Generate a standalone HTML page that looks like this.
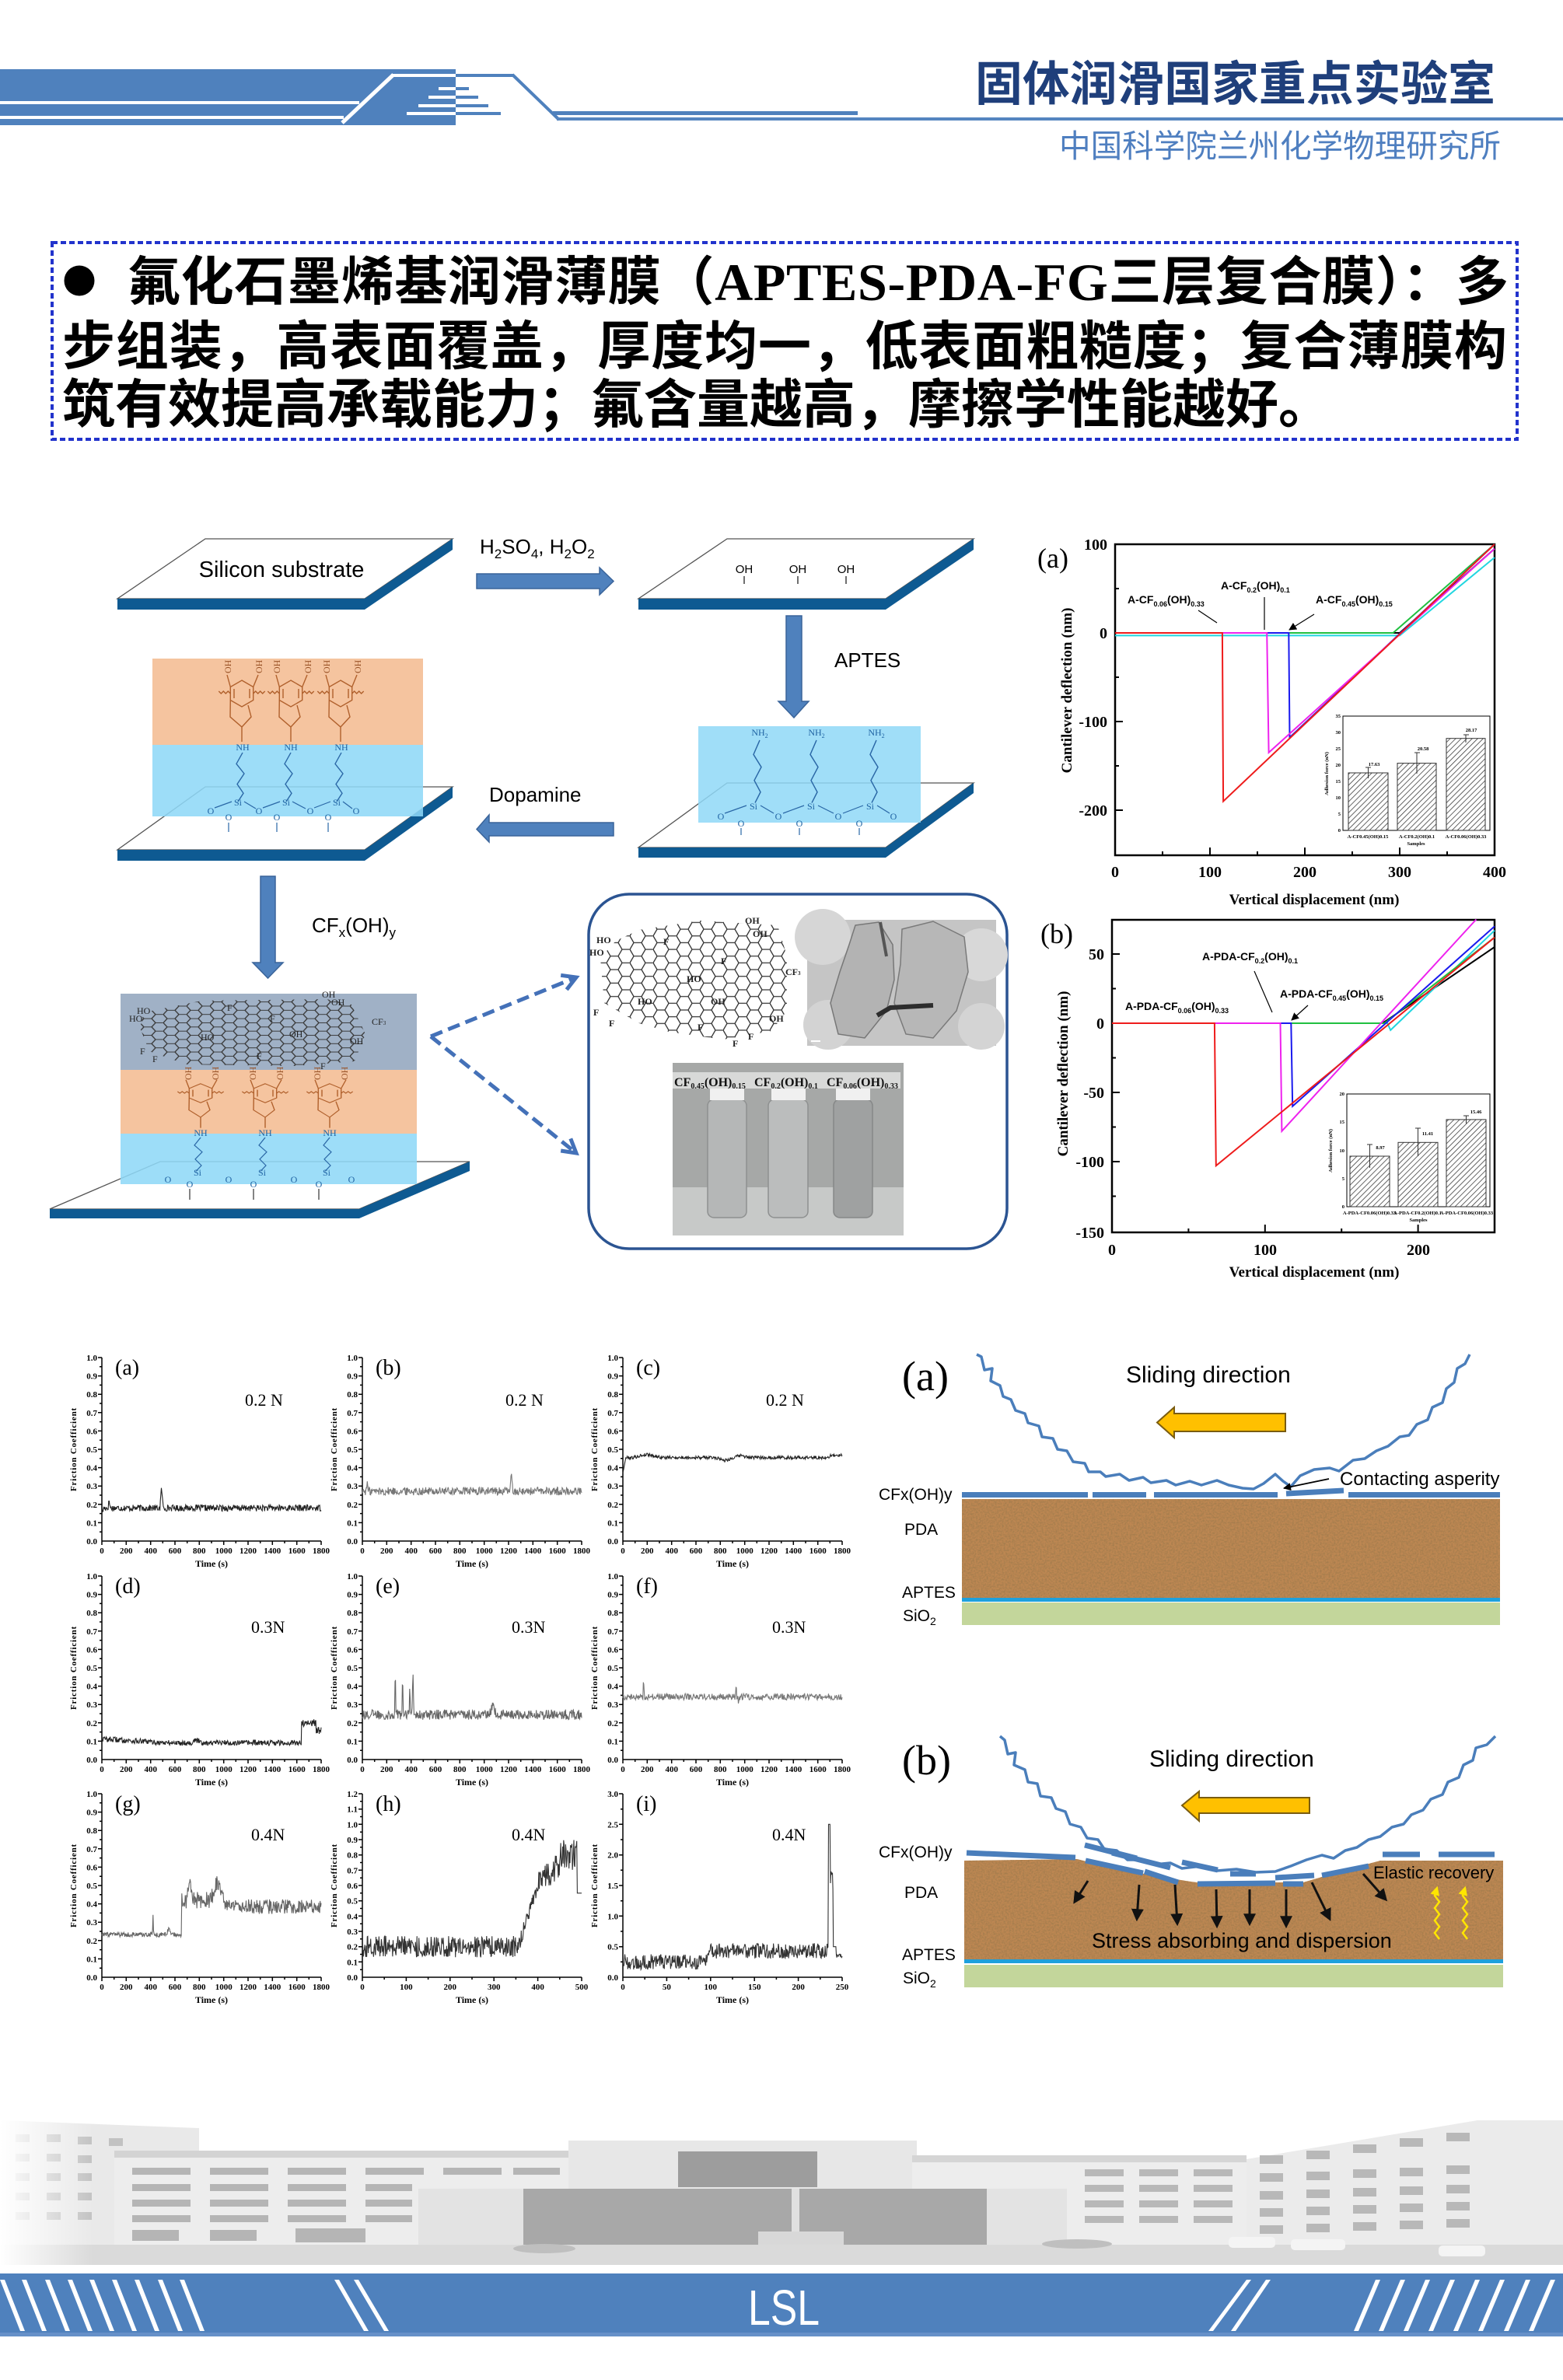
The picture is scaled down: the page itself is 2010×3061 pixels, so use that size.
<!DOCTYPE html>
<html><head><meta charset="utf-8">
<style>
html,body{margin:0;padding:0;background:#fff;}
body{width:2010px;height:3061px;overflow:hidden;position:relative;}
svg{position:absolute;left:0;top:0;}
.s{font-family:"Liberation Sans",sans-serif;}
.r{font-family:"Liberation Serif",serif;}
.c{font-family:"Liberation Sans","Noto Sans CJK SC",sans-serif;}
.tk{font-family:"Liberation Serif",serif;font-weight:bold;font-size:11px;}
.tt{font-family:"Liberation Serif",serif;font-weight:bold;font-size:12px;}
.pl{font-family:"Liberation Serif",serif;font-size:28px;}
.ld{font-family:"Liberation Serif",serif;font-size:22px;}
.af{font-family:"Liberation Serif",serif;font-weight:bold;font-size:20px;}
.at{font-family:"Liberation Serif",serif;font-weight:bold;font-size:19px;}
.cl{font-family:"Liberation Sans",sans-serif;font-weight:bold;font-size:14px;}
.in{font-family:"Liberation Serif",serif;font-weight:bold;font-size:6.5px;}
.mo{font-family:"Liberation Serif",serif;font-size:12px;}
</style></head><body>
<svg width="2010" height="3061" viewBox="0 0 2010 3061" xmlns="http://www.w3.org/2000/svg">
<defs>
 <pattern id="hatch" width="5" height="5" patternUnits="userSpaceOnUse" patternTransform="rotate(45)"><rect width="5" height="5" fill="#fff"/><line x1="0" y1="0" x2="0" y2="5" stroke="#333" stroke-width="1.5"/></pattern>
 <pattern id="hc" width="30" height="17.32" patternUnits="userSpaceOnUse"><path d="M0,8.66 L5,0 L15,0 L20,8.66 L15,17.32 L5,17.32 Z M20,8.66 L30,8.66" fill="none" stroke="#333" stroke-width="1.3"/></pattern>
 <pattern id="hg" width="30" height="17.32" patternUnits="userSpaceOnUse" patternTransform="scale(1,0.62)"><path d="M0,8.66 L5,0 L15,0 L20,8.66 L15,17.32 L5,17.32 Z M20,8.66 L30,8.66" fill="none" stroke="#3a3a3a" stroke-width="1.6"/></pattern>
 <filter id="grain" x="0" y="0" width="100%" height="100%"><feTurbulence type="fractalNoise" baseFrequency="0.45" numOctaves="2" seed="5"/><feColorMatrix values="0 0 0 0 0.33  0 0 0 0 0.19  0 0 0 0 0.07  1.6 0 0 0 -0.55"/><feComposite in2="SourceAlpha" operator="in"/></filter>
 <marker id="ah" viewBox="0 0 10 10" refX="9" refY="5" markerUnits="userSpaceOnUse" markerWidth="10" markerHeight="10" orient="auto"><path d="M0,0 L10,5 L0,10 z" fill="#000"/></marker>
 <marker id="ahb" viewBox="0 0 10 10" refX="8" refY="5" markerUnits="userSpaceOnUse" markerWidth="16" markerHeight="16" orient="auto"><path d="M0,0 L10,5 L0,10 z" fill="#111"/></marker>
 <marker id="ahy" viewBox="0 0 10 10" refX="8" refY="5" markerUnits="userSpaceOnUse" markerWidth="12" markerHeight="12" orient="auto"><path d="M0,0 L10,5 L0,10 z" fill="#ffe600"/></marker>
 <g id="pda" fill="none" stroke="#b0602c" stroke-width="1.4">
  <polygon points="0,-17 14.7,-8.5 14.7,8.5 0,17 -14.7,8.5 -14.7,-8.5"/>
  <path d="M-10,-6 L-10,6 M10,-6 L10,6 M-14.7,-8.5 L-19,-24 M14.7,-8.5 L21,-24 M-14.7,0 l-3,-3 l-3,3 l-3,-3 l-3,3 l-3,-3 M14.7,0 l3,-3 l3,3 l3,-3 l3,3 l3,-3 M-14.7,8.5 L-15,30 L0,43 L12,30 L8,15 M0,43 L0,62"/>
 </g>
 <g id="ch" fill="none" stroke="#2a67a6" stroke-width="1.4"><path d="M0,0 L-8,16 L2,30 L-7,45 L1,58 L-6,70"/></g>
</defs>

<!-- ===== HEADER ===== -->
<rect x="0" y="89" width="586" height="72" fill="#4f81bd"/>
<rect x="0" y="130" width="462" height="4" fill="#fff"/>
<rect x="0" y="149" width="442" height="4" fill="#fff"/>
<line x1="506" y1="96" x2="440" y2="158" stroke="#fff" stroke-width="5"/>
<rect x="505" y="95" width="81" height="4" fill="#fff"/>
<rect x="586" y="95" width="74" height="4" fill="#4f81bd"/>
<line x1="659" y1="96" x2="719" y2="154" stroke="#4f81bd" stroke-width="4"/>
<rect x="564" y="112" width="22" height="4" fill="#fff"/><rect x="586" y="112" width="17" height="4" fill="#4f81bd"/>
<rect x="551" y="123" width="35" height="4" fill="#fff"/><rect x="586" y="123" width="29" height="4" fill="#4f81bd"/>
<rect x="538" y="134" width="48" height="4" fill="#fff"/><rect x="586" y="134" width="42" height="4" fill="#4f81bd"/>
<rect x="523" y="144" width="63" height="4" fill="#fff"/><rect x="586" y="144" width="58" height="4" fill="#4f81bd"/>
<rect x="711" y="143" width="392" height="5" fill="#4f81bd"/>
<rect x="716" y="151" width="1294" height="4" fill="#5585c0"/>
<text x="1254" y="129" font-size="61" font-weight="bold" fill="#1f3f7b" class="c" textLength="669" lengthAdjust="spacingAndGlyphs">固体润滑国家重点实验室</text>
<text x="1362" y="202" font-size="41" fill="#4f7fc0" class="c" textLength="568" lengthAdjust="spacingAndGlyphs">中国科学院兰州化学物理研究所</text>

<!-- ===== TITLE BOX ===== -->
<rect x="67" y="312" width="1884" height="253" fill="none" stroke="#2233cc" stroke-width="4" stroke-dasharray="7 4"/>
<circle cx="102" cy="361" r="19.5" fill="#000"/>
<text x="164" y="386" font-size="68" font-weight="bold" class="c" textLength="1776" lengthAdjust="spacing">氟化石墨烯基润滑薄膜（<tspan class="r">APTES-PDA-FG</tspan>三层复合膜）：多</text>
<text x="80" y="469" font-size="68" font-weight="bold" class="c" textLength="1858" lengthAdjust="spacing">步组装，高表面覆盖，厚度均一，低表面粗糙度；复合薄膜构</text>
<text x="80" y="544" font-size="68" font-weight="bold" class="c">筑有效提高承载能力；氟含量越高，摩擦学性能越好。</text>

<!-- ===== SCHEMATIC ===== -->
<!-- plate 1 -->
<polygon points="264,693 582,693 469,770 151,770" fill="#fff" stroke="#555" stroke-width="1.3"/>
<polygon points="151,770 469,770 469,784 151,784" fill="#0e5a92"/>
<polygon points="469,770 582,693 582,707 469,784" fill="#0e5a92"/>
<text x="362" y="742" font-size="29" text-anchor="middle" class="s">Silicon substrate</text>
<!-- plate 2 -->
<polygon points="935,693 1252,693 1139,770 821,770" fill="#fff" stroke="#555" stroke-width="1.3"/>
<polygon points="821,770 1139,770 1139,784 821,784" fill="#0e5a92"/>
<polygon points="1139,770 1252,693 1252,707 1139,784" fill="#0e5a92"/>
<text class="s" font-size="15" text-anchor="middle" y="737"><tspan x="957">OH</tspan><tspan x="1026">OH</tspan><tspan x="1088">OH</tspan></text>
<path d="M957,741v10M1026,741v10M1088,741v10" stroke="#222" stroke-width="1.3"/>
<!-- arrow right -->
<polygon points="613,738 771,738 771,730 789,747.5 771,765 771,757 613,757" fill="#4f81bd" stroke="#3a649a" stroke-width="1.5"/>
<text x="617" y="712" font-size="26" class="s">H<tspan font-size="17" dy="6">2</tspan><tspan dy="-6">SO</tspan><tspan font-size="17" dy="6">4</tspan><tspan dy="-6">, H</tspan><tspan font-size="17" dy="6">2</tspan><tspan dy="-6">O</tspan><tspan font-size="17" dy="6">2</tspan></text>
<!-- arrow down -->
<polygon points="1011,792 1031,792 1031,902 1040,902 1021,923 1001,902 1011,902" fill="#4f81bd" stroke="#3a649a" stroke-width="1.5"/>
<text x="1073" y="858" font-size="26" class="s">APTES</text>
<!-- plate 3 -->
<polygon points="935,1007 1252,1007 1139,1090 821,1090" fill="#fff" stroke="#555" stroke-width="1.3"/>
<polygon points="821,1090 1139,1090 1139,1103 821,1103" fill="#0e5a92"/>
<polygon points="1139,1090 1252,1007 1252,1020 1139,1103" fill="#0e5a92"/>
<rect x="898" y="934" width="286" height="124" fill="#8fd8f7" opacity="0.85"/>
<text class="mo" fill="#1f63a3" text-anchor="middle" y="946"><tspan x="977">NH<tspan font-size="8" dy="3">2</tspan></tspan><tspan x="1050" dy="-3">NH<tspan font-size="8" dy="3">2</tspan></tspan><tspan x="1127" dy="-3">NH<tspan font-size="8" dy="3">2</tspan></tspan></text>
<use href="#ch" transform="translate(977,952) scale(1,1.15)"/>
<use href="#ch" transform="translate(1050,952) scale(1,1.15)"/>
<use href="#ch" transform="translate(1127,952) scale(1,1.15)"/>
<text class="mo" fill="#1f63a3" text-anchor="middle" y="1041"><tspan x="969">Si</tspan><tspan x="1043">Si</tspan><tspan x="1119">Si</tspan></text>
<text class="mo" fill="#1f63a3" text-anchor="middle" y="1054"><tspan x="927">O</tspan><tspan x="1001">O</tspan><tspan x="1078">O</tspan><tspan x="1149">O</tspan></text>
<text class="mo" fill="#1f63a3" text-anchor="middle" y="1063"><tspan x="953">O</tspan><tspan x="1028">O</tspan><tspan x="1105">O</tspan></text>
<path d="M960,1036 L932,1046 M978,1036 L995,1046 M1034,1036 L1007,1046 M1052,1036 L1072,1046 M1110,1036 L1084,1046 M1128,1036 L1144,1046 M953,1065v9 M1028,1065v9 M1105,1065v9" stroke="#2a67a6" stroke-width="1.2"/>
<!-- arrow left (dopamine) -->
<polygon points="789,1058 629,1058 629,1048 613,1066.5 629,1083 629,1075 789,1075" fill="#4f81bd" stroke="#3a649a" stroke-width="1.5"/>
<text x="629" y="1031" font-size="26" class="s">Dopamine</text>
<!-- plate 4 -->
<polygon points="264,1012 582,1012 469,1093 151,1093" fill="#fff" stroke="#555" stroke-width="1.3"/>
<polygon points="151,1093 469,1093 469,1107 151,1107" fill="#0e5a92"/>
<polygon points="469,1093 582,1012 582,1026 469,1107" fill="#0e5a92"/>
<rect x="196" y="847" width="348" height="111" fill="#f5c49f"/>
<rect x="196" y="958" width="348" height="92" fill="#8fd8f7" opacity="0.87"/>
<use href="#pda" transform="translate(311,892)"/>
<use href="#pda" transform="translate(374,892)"/>
<use href="#pda" transform="translate(438,892)"/>
<g class="mo" font-size="11" fill="#9a5428">
<text transform="translate(297,866) rotate(-90)">OH</text><text transform="translate(337,866) rotate(-90)">OH</text>
<text transform="translate(360,866) rotate(-90)">OH</text><text transform="translate(400,866) rotate(-90)">OH</text>
<text transform="translate(424,866) rotate(-90)">OH</text><text transform="translate(464,866) rotate(-90)">OH</text>
</g>
<text class="mo" fill="#1f63a3" text-anchor="middle" y="965"><tspan x="312">NH</tspan><tspan x="374">NH</tspan><tspan x="439">NH</tspan></text>
<use href="#ch" transform="translate(312,968) scale(1,0.9)"/>
<use href="#ch" transform="translate(374,968) scale(1,0.9)"/>
<use href="#ch" transform="translate(439,968) scale(1,0.9)"/>
<text class="mo" fill="#1f63a3" text-anchor="middle" y="1036"><tspan x="306">Si</tspan><tspan x="368">Si</tspan><tspan x="433">Si</tspan></text>
<text class="mo" fill="#1f63a3" text-anchor="middle" y="1047"><tspan x="271">O</tspan><tspan x="333">O</tspan><tspan x="399">O</tspan><tspan x="458">O</tspan></text>
<text class="mo" fill="#1f63a3" text-anchor="middle" y="1055"><tspan x="294">O</tspan><tspan x="356">O</tspan><tspan x="422">O</tspan></text>
<path d="M298,1031 L276,1039 M314,1031 L329,1040 M360,1031 L338,1039 M376,1031 L393,1040 M425,1031 L404,1039 M441,1031 L453,1040 M294,1058v12 M356,1058v12 M422,1058v12" stroke="#2a67a6" stroke-width="1.2"/>
<!-- arrow down 2 -->
<polygon points="335,1127 354,1127 354,1238 364,1238 344.5,1258 325,1238 335,1238" fill="#4f81bd" stroke="#3a649a" stroke-width="1.5"/>
<text x="401" y="1199" font-size="26" class="s">CF<tspan font-size="17" dy="6">x</tspan><tspan dy="-6">(OH)</tspan><tspan font-size="17" dy="6">y</tspan></text>
<!-- plate 5 -->
<polygon points="206,1494 604,1494 462,1555 64,1555" fill="#fff" stroke="#555" stroke-width="1.3"/>
<polygon points="64,1555 462,1555 462,1567 64,1567" fill="#0e5a92"/>
<polygon points="462,1555 604,1494 604,1506 462,1567" fill="#0e5a92"/>
<rect x="155" y="1278" width="381" height="98" fill="#a0b1c6"/>
<rect x="155" y="1376" width="381" height="82" fill="#f5c49f"/>
<rect x="155" y="1458" width="381" height="65" fill="#8fd8f7" opacity="0.87"/>
<polygon points="185,1302 260,1287 420,1285 452,1292 470,1330 456,1365 380,1371 240,1369 192,1352 180,1322" fill="url(#hg)"/>
<g class="mo" font-size="10" fill="#222">
<text x="414" y="1283">OH</text><text x="426" y="1293">OH</text><text x="176" y="1304">HO</text><text x="166" y="1314">HO</text>
<text x="478" y="1318">CF<tspan font-size="7">3</tspan></text><text x="450" y="1343">OH</text><text x="258" y="1338">HO</text><text x="372" y="1334">OH</text>
<text x="180" y="1356">F</text><text x="196" y="1366">F</text><text x="330" y="1362">F</text><text x="412" y="1375">F</text><text x="292" y="1300">F</text><text x="347" y="1314">F</text>
</g>
<g transform="translate(0,0)">
<use href="#pda" transform="translate(258,1406) scale(1,0.72)"/>
<use href="#pda" transform="translate(341,1406) scale(1,0.72)"/>
<use href="#pda" transform="translate(424,1406) scale(1,0.72)"/>
</g>
<g class="mo" font-size="10" fill="#9a5428">
<text transform="translate(246,1389) rotate(-90)">OH</text><text transform="translate(281,1389) rotate(-90)">OH</text>
<text transform="translate(329,1389) rotate(-90)">OH</text><text transform="translate(364,1389) rotate(-90)">OH</text>
<text transform="translate(412,1389) rotate(-90)">OH</text><text transform="translate(447,1389) rotate(-90)">OH</text>
</g>
<text class="mo" fill="#1f63a3" text-anchor="middle" y="1461"><tspan x="258">NH</tspan><tspan x="341">NH</tspan><tspan x="424">NH</tspan></text>
<use href="#ch" transform="translate(258,1463) scale(1,0.62)"/>
<use href="#ch" transform="translate(341,1463) scale(1,0.62)"/>
<use href="#ch" transform="translate(424,1463) scale(1,0.62)"/>
<text class="mo" fill="#1f63a3" text-anchor="middle" y="1512"><tspan x="254">Si</tspan><tspan x="337">Si</tspan><tspan x="420">Si</tspan></text>
<text class="mo" fill="#1f63a3" text-anchor="middle" y="1521"><tspan x="216">O</tspan><tspan x="294">O</tspan><tspan x="378">O</tspan><tspan x="452">O</tspan></text>
<text class="mo" fill="#1f63a3" text-anchor="middle" y="1527"><tspan x="244">O</tspan><tspan x="326">O</tspan><tspan x="410">O</tspan></text>
<path d="M244,1529v14 M326,1529v14 M410,1529v14" stroke="#333" stroke-width="1.2"/>
<!-- dashed arrows -->
<path d="M554,1333 L741,1257 M554,1333 L741,1483" stroke="#4471b8" stroke-width="5" stroke-dasharray="16 8" fill="none"/>
<path d="M721.2,1254.3 L741,1257 L728.7,1272.8 M733.8,1464.4 L741,1483 L721.2,1480" stroke="#4471b8" stroke-width="5" fill="none"/>
<!-- rounded box -->
<rect x="757" y="1150" width="538" height="456" rx="52" fill="#fff" stroke="#2b5492" stroke-width="3.5"/>
<polygon points="822,1196 900,1184 1000,1190 1012,1230 1012,1300 992,1326 930,1337 860,1327 822,1316 777,1290 772,1232 792,1210" fill="url(#hc)"/>
<g class="mo" font-size="11" font-weight="bold" fill="#222">
<text x="958" y="1188">OH</text><text x="968" y="1205">OH</text><text x="767" y="1213">HO</text><text x="758" y="1229">HO</text>
<text x="853" y="1215">F</text><text x="927" y="1240">F</text><text x="1010" y="1254">CF<tspan font-size="7">3</tspan></text><text x="883" y="1263">HO</text>
<text x="820" y="1292">HO</text><text x="914" y="1292">OH</text><text x="763" y="1306">F</text><text x="783" y="1320">F</text>
<text x="989" y="1314">OH</text><text x="897" y="1325">F</text><text x="962" y="1337">F</text><text x="942" y="1346">F</text>
</g>
<!-- TEM -->
<rect x="1038" y="1183" width="243" height="162" fill="#c5c5c5"/>
<circle cx="1058" cy="1205" r="36" fill="#d6d6d6"/><circle cx="1065" cy="1318" r="32" fill="#d3d3d3"/>
<circle cx="1262" cy="1228" r="34" fill="#d8d8d8"/><circle cx="1262" cy="1320" r="30" fill="#d4d4d4"/>
<path d="M1100,1190 L1130,1186 L1148,1215 L1150,1260 L1140,1300 L1112,1335 L1078,1330 L1068,1290 L1080,1250 L1092,1215 Z" fill="#b3b3b3" stroke="#777" stroke-width="1.5"/>
<path d="M1160,1195 L1200,1185 L1240,1205 L1245,1250 L1230,1300 L1200,1335 L1165,1330 L1150,1290 L1158,1240 Z" fill="#b7b7b7" stroke="#7a7a7a" stroke-width="1.5"/>
<path d="M1132,1186 L1140,1230" stroke="#555" stroke-width="4"/>
<path d="M1128,1306 L1145,1296 L1200,1293" stroke="#2d2d2d" stroke-width="6" fill="none"/>
<rect x="1043" y="1338" width="12" height="2" fill="#fff"/>
<!-- vials photo -->
<rect x="865" y="1367" width="297" height="222" fill="#a6a8a7"/>
<rect x="865" y="1527" width="297" height="62" fill="#c7c9c8"/>
<rect x="865" y="1379" width="293" height="21" fill="#dedede" opacity="0.9"/>
<rect x="910" y="1414" width="50" height="152" rx="8" fill="#b5b7b7" stroke="#8e9090" stroke-width="1.5"/>
<rect x="988" y="1414" width="51" height="152" rx="8" fill="#bbbdbd" stroke="#8e9090" stroke-width="1.5"/>
<rect x="1072" y="1414" width="50" height="152" rx="8" fill="#9fa1a1" stroke="#858787" stroke-width="1.5"/>
<rect x="913" y="1400" width="44" height="15" fill="#f0f0f0"/><rect x="992" y="1400" width="44" height="15" fill="#f0f0f0"/><rect x="1075" y="1400" width="44" height="15" fill="#f0f0f0"/>
<g class="r" font-weight="bold" font-size="16" fill="#111">
<text x="867" y="1397">CF<tspan font-size="10" dy="3">0.45</tspan><tspan dy="-3">(OH)</tspan><tspan font-size="10" dy="3">0.15</tspan></text>
<text x="970" y="1397">CF<tspan font-size="10" dy="3">0.2</tspan><tspan dy="-3">(OH)</tspan><tspan font-size="10" dy="3">0.1</tspan></text>
<text x="1063" y="1397">CF<tspan font-size="10" dy="3">0.06</tspan><tspan dy="-3">(OH)</tspan><tspan font-size="10" dy="3">0.33</tspan></text>
</g>

<!-- ===== AFM (a) ===== -->
<rect x="1434" y="700" width="488" height="400" fill="none" stroke="#000" stroke-width="2.5"/>
<path d="M1434,700h10M1434,814h10M1434,928h10M1434,1042h10M1434,757h5M1434,871h5M1434,985h5M1556,1100v-10M1678,1100v-10M1800,1100v-10M1495,1100v-5M1617,1100v-5M1739,1100v-5M1861,1100v-5" stroke="#000" stroke-width="2"/>
<text class="af" text-anchor="end"><tspan x="1424" y="707">100</tspan><tspan x="1424" y="821">0</tspan><tspan x="1424" y="935">-100</tspan><tspan x="1424" y="1049">-200</tspan></text>
<text class="af" text-anchor="middle" y="1128"><tspan x="1434">0</tspan><tspan x="1556">100</tspan><tspan x="1678">200</tspan><tspan x="1800">300</tspan><tspan x="1922">400</tspan></text>
<text class="at" x="1690" y="1163" text-anchor="middle">Vertical displacement (nm)</text>
<text class="at" transform="translate(1378,888) rotate(-90)" text-anchor="middle">Cantilever deflection (nm)</text>
<text class="r" font-size="36" x="1334" y="730">(a)</text>
<g fill="none" stroke-width="2">
<polyline points="1434,817.4 1800,817.4 1922,717" stroke="#22d6e0"/>
<polyline points="1434,814 1800,814 1922,705.7" stroke="#000"/>
<polyline points="1434,814 1791.5,814 1922,700" stroke="#20c040"/>
<polyline points="1434,814 1657.3,814 1658.5,948.5 1922,700" stroke="#1a1aee"/>
<polyline points="1434,814 1629.2,814 1631.6,967.9 1922,705.7" stroke="#ee22ee"/>
<polyline points="1434,814 1571.9,814 1573.1,1030.6 1922,700" stroke="#ee1c1c"/>
</g>
<text class="cl" x="1450" y="776">A-CF<tspan font-size="9" dy="4">0.06</tspan><tspan dy="-4">(OH)</tspan><tspan font-size="9" dy="4">0.33</tspan></text>
<text class="cl" x="1570" y="758">A-CF<tspan font-size="9" dy="4">0.2</tspan><tspan dy="-4">(OH)</tspan><tspan font-size="9" dy="4">0.1</tspan></text>
<text class="cl" x="1692" y="776">A-CF<tspan font-size="9" dy="4">0.45</tspan><tspan dy="-4">(OH)</tspan><tspan font-size="9" dy="4">0.15</tspan></text>
<path d="M1541,785 L1565,801 M1626,768 L1626,810 M1690,790 L1658,810" stroke="#000" stroke-width="1.2" marker-end="url(#ah)"/>
<!-- inset a -->
<rect x="1727" y="921" width="189" height="147" fill="#fff" stroke="#000" stroke-width="1"/>
<rect x="1734" y="994" width="51" height="74" fill="url(#hatch)" stroke="#333"/>
<rect x="1797" y="981.6" width="50" height="86.4" fill="url(#hatch)" stroke="#333"/>
<rect x="1860" y="949.7" width="50" height="118.3" fill="url(#hatch)" stroke="#333"/>
<path d="M1759.5,987v14M1822,968v27M1885,945v10M1756,987h7M1819,968h7M1882,945h7" stroke="#333"/>
<text class="in" text-anchor="middle"><tspan x="1767" y="985">17.63</tspan><tspan x="1830" y="965">20.58</tspan><tspan x="1892" y="941">28.17</tspan></text>
<text class="in" text-anchor="end" font-size="6"><tspan x="1724" y="1070">0</tspan><tspan x="1724" y="1049">5</tspan><tspan x="1724" y="1028">10</tspan><tspan x="1724" y="1007">15</tspan><tspan x="1724" y="986">20</tspan><tspan x="1724" y="965">25</tspan><tspan x="1724" y="944">30</tspan><tspan x="1724" y="923">35</tspan></text>
<text class="in" transform="translate(1708,995) rotate(-90)" text-anchor="middle">Adhesion force (nN)</text>
<text class="in" text-anchor="middle" font-size="6" y="1078"><tspan x="1759">A-CF0.45(OH)0.15</tspan><tspan x="1822">A-CF0.2(OH)0.1</tspan><tspan x="1885">A-CF0.06(OH)0.33</tspan></text>
<text class="in" x="1821" y="1087" text-anchor="middle">Samples</text>

<!-- ===== AFM (b) ===== -->
<rect x="1430" y="1183" width="492" height="402" fill="none" stroke="#000" stroke-width="2.5"/>
<path d="M1430,1227h10M1430,1316h10M1430,1405h10M1430,1494h10M1430,1271.5h5M1430,1360.5h5M1430,1449.5h5M1430,1538.5h5M1626.8,1585v-10M1823.6,1585v-10M1528.4,1585v-5M1725.2,1585v-5" stroke="#000" stroke-width="2"/>
<text class="af" text-anchor="end"><tspan x="1420" y="1234">50</tspan><tspan x="1420" y="1323">0</tspan><tspan x="1420" y="1412">-50</tspan><tspan x="1420" y="1501">-100</tspan><tspan x="1420" y="1592">-150</tspan></text>
<text class="af" text-anchor="middle" y="1614"><tspan x="1430">0</tspan><tspan x="1627">100</tspan><tspan x="1824">200</tspan></text>
<text class="at" x="1690" y="1642" text-anchor="middle">Vertical displacement (nm)</text>
<text class="at" transform="translate(1373,1381) rotate(-90)" text-anchor="middle">Cantilever deflection (nm)</text>
<text class="r" font-size="36" x="1338" y="1213">(b)</text>
<g fill="none" stroke-width="2">
<polyline points="1430,1316 1778,1316 1922,1218" stroke="#000"/>
<polyline points="1430,1316 1784.2,1316 1788.2,1324.9 1922,1196.7" stroke="#22d6e0"/>
<polyline points="1430,1316 1780.3,1316 1922,1205.6" stroke="#20c040"/>
<polyline points="1430,1316 1660.3,1316 1662.2,1422.8 1922,1191.4" stroke="#1a1aee"/>
<polyline points="1430,1316 1646.5,1316 1648.4,1454.8 1898.4,1182.5" stroke="#ee22ee"/>
<polyline points="1430,1316 1561.9,1316 1563.8,1499.3 1922,1205.6" stroke="#ee1c1c"/>
</g>
<text class="cl" x="1546" y="1235">A-PDA-CF<tspan font-size="9" dy="4">0.2</tspan><tspan dy="-4">(OH)</tspan><tspan font-size="9" dy="4">0.1</tspan></text>
<text class="cl" x="1646" y="1283">A-PDA-CF<tspan font-size="9" dy="4">0.45</tspan><tspan dy="-4">(OH)</tspan><tspan font-size="9" dy="4">0.15</tspan></text>
<text class="cl" x="1447" y="1299">A-PDA-CF<tspan font-size="9" dy="4">0.06</tspan><tspan dy="-4">(OH)</tspan><tspan font-size="9" dy="4">0.33</tspan></text>
<path d="M1613,1249 L1636,1302 M1682,1293 L1661,1312" stroke="#000" stroke-width="1.2" marker-end="url(#ah)"/>
<!-- inset b -->
<rect x="1732" y="1407" width="184" height="145" fill="#fff" stroke="#000" stroke-width="1"/>
<rect x="1736" y="1487" width="51" height="65" fill="url(#hatch)" stroke="#333"/>
<rect x="1798" y="1469.3" width="51" height="82.7" fill="url(#hatch)" stroke="#333"/>
<rect x="1860" y="1439.9" width="51" height="112.1" fill="url(#hatch)" stroke="#333"/>
<path d="M1761.5,1472v30M1823.5,1451v36M1885.5,1435v10M1758,1472h7M1820,1451h7M1882,1435h7" stroke="#333"/>
<text class="in" text-anchor="middle"><tspan x="1775" y="1478">8.97</tspan><tspan x="1836" y="1460">11.41</tspan><tspan x="1898" y="1432">15.46</tspan></text>
<text class="in" text-anchor="end" font-size="6"><tspan x="1729" y="1554">0</tspan><tspan x="1729" y="1518">5</tspan><tspan x="1729" y="1482">10</tspan><tspan x="1729" y="1445">15</tspan><tspan x="1729" y="1409">20</tspan></text>
<text class="in" transform="translate(1713,1480) rotate(-90)" text-anchor="middle">Adhesion force (nN)</text>
<text class="in" text-anchor="middle" font-size="5.5" y="1562"><tspan x="1761">A-PDA-CF0.06(OH)0.33</tspan><tspan x="1823">A-PDA-CF0.2(OH)0.1</tspan><tspan x="1886">A-PDA-CF0.06(OH)0.33</tspan></text>
<text class="in" x="1824" y="1571" text-anchor="middle">Samples</text>

<!-- ===== FRICTION PLOTS ===== -->
<defs>
<path id="ax10" fill="none" stroke="#000" stroke-width="1.5" d="M0,0V236H282 M-5,0h5M-5,23.6h5M-5,47.2h5M-5,70.8h5M-5,94.4h5M-5,118h5M-5,141.6h5M-5,165.2h5M-5,188.8h5M-5,212.4h5 M-3,11.8h3M-3,35.4h3M-3,59h3M-3,82.6h3M-3,106.2h3M-3,129.8h3M-3,153.4h3M-3,177h3M-3,200.6h3M-3,224.2h3 M0,236v5M31.3,236v5M62.7,236v5M94,236v5M125.3,236v5M156.7,236v5M188,236v5M219.3,236v5M250.7,236v5M282,236v5 M15.7,236v3M47,236v3M78.3,236v3M109.7,236v3M141,236v3M172.3,236v3M203.7,236v3M235,236v3M266.3,236v3"/>
<path id="axh" fill="none" stroke="#000" stroke-width="1.5" d="M0,0V236H282 M-5,0h5M-5,19.7h5M-5,39.3h5M-5,59h5M-5,78.7h5M-5,98.3h5M-5,118h5M-5,137.7h5M-5,157.3h5M-5,177h5M-5,196.7h5M-5,216.3h5 M-3,9.8h3M-3,29.5h3M-3,49.2h3M-3,68.8h3M-3,88.5h3M-3,108.2h3M-3,127.8h3M-3,147.5h3M-3,167.2h3M-3,186.8h3M-3,206.5h3M-3,226.2h3 M0,236v5M56.4,236v5M112.8,236v5M169.2,236v5M225.6,236v5M282,236v5 M28.2,236v3M84.6,236v3M141,236v3M197.4,236v3M253.8,236v3"/>
<path id="axi" fill="none" stroke="#000" stroke-width="1.5" d="M0,0V236H282 M-5,0h5M-5,39.3h5M-5,78.7h5M-5,118h5M-5,157.3h5M-5,196.7h5 M-3,19.7h3M-3,59h3M-3,98.3h3M-3,137.7h3M-3,177h3M-3,216.3h3 M0,236v5M56.4,236v5M112.8,236v5M169.2,236v5M225.6,236v5M282,236v5 M28.2,236v3M84.6,236v3M141,236v3M197.4,236v3M253.8,236v3"/>
</defs>

<g transform="translate(131,1746)">
<use href="#ax10"/>
<text class="tk" text-anchor="end"><tspan x="-6" y="4">1.0</tspan><tspan x="-6" y="27.6">0.9</tspan><tspan x="-6" y="51.2">0.8</tspan><tspan x="-6" y="74.8">0.7</tspan><tspan x="-6" y="98.4">0.6</tspan><tspan x="-6" y="122">0.5</tspan><tspan x="-6" y="145.6">0.4</tspan><tspan x="-6" y="169.2">0.3</tspan><tspan x="-6" y="192.8">0.2</tspan><tspan x="-6" y="216.4">0.1</tspan><tspan x="-6" y="240">0.0</tspan></text>
<text class="tk" text-anchor="middle" y="252"><tspan x="0">0</tspan><tspan x="31.3">200</tspan><tspan x="62.7">400</tspan><tspan x="94">600</tspan><tspan x="125.3">800</tspan><tspan x="156.7">1000</tspan><tspan x="188">1200</tspan><tspan x="219.3">1400</tspan><tspan x="250.7">1600</tspan><tspan x="282">1800</tspan></text>
<text class="tt" x="141" y="269" text-anchor="middle">Time (s)</text>
<text class="tk" transform="translate(-33,118) rotate(-90)" text-anchor="middle" letter-spacing="0.8">Friction Coefficient</text>
<text class="pl" x="17" y="22">(a)</text><text class="ld" x="184" y="62">0.2 N</text>
<g id="fa"></g></g>

<g transform="translate(466,1746)">
<use href="#ax10"/>
<text class="tk" text-anchor="end"><tspan x="-6" y="4">1.0</tspan><tspan x="-6" y="27.6">0.9</tspan><tspan x="-6" y="51.2">0.8</tspan><tspan x="-6" y="74.8">0.7</tspan><tspan x="-6" y="98.4">0.6</tspan><tspan x="-6" y="122">0.5</tspan><tspan x="-6" y="145.6">0.4</tspan><tspan x="-6" y="169.2">0.3</tspan><tspan x="-6" y="192.8">0.2</tspan><tspan x="-6" y="216.4">0.1</tspan><tspan x="-6" y="240">0.0</tspan></text>
<text class="tk" text-anchor="middle" y="252"><tspan x="0">0</tspan><tspan x="31.3">200</tspan><tspan x="62.7">400</tspan><tspan x="94">600</tspan><tspan x="125.3">800</tspan><tspan x="156.7">1000</tspan><tspan x="188">1200</tspan><tspan x="219.3">1400</tspan><tspan x="250.7">1600</tspan><tspan x="282">1800</tspan></text>
<text class="tt" x="141" y="269" text-anchor="middle">Time (s)</text>
<text class="tk" transform="translate(-33,118) rotate(-90)" text-anchor="middle" letter-spacing="0.8">Friction Coefficient</text>
<text class="pl" x="17" y="22">(b)</text><text class="ld" x="184" y="62">0.2 N</text>
<g id="fb"></g></g>

<g transform="translate(801,1746)">
<use href="#ax10"/>
<text class="tk" text-anchor="end"><tspan x="-6" y="4">1.0</tspan><tspan x="-6" y="27.6">0.9</tspan><tspan x="-6" y="51.2">0.8</tspan><tspan x="-6" y="74.8">0.7</tspan><tspan x="-6" y="98.4">0.6</tspan><tspan x="-6" y="122">0.5</tspan><tspan x="-6" y="145.6">0.4</tspan><tspan x="-6" y="169.2">0.3</tspan><tspan x="-6" y="192.8">0.2</tspan><tspan x="-6" y="216.4">0.1</tspan><tspan x="-6" y="240">0.0</tspan></text>
<text class="tk" text-anchor="middle" y="252"><tspan x="0">0</tspan><tspan x="31.3">200</tspan><tspan x="62.7">400</tspan><tspan x="94">600</tspan><tspan x="125.3">800</tspan><tspan x="156.7">1000</tspan><tspan x="188">1200</tspan><tspan x="219.3">1400</tspan><tspan x="250.7">1600</tspan><tspan x="282">1800</tspan></text>
<text class="tt" x="141" y="269" text-anchor="middle">Time (s)</text>
<text class="tk" transform="translate(-33,118) rotate(-90)" text-anchor="middle" letter-spacing="0.8">Friction Coefficient</text>
<text class="pl" x="17" y="22">(c)</text><text class="ld" x="184" y="62">0.2 N</text>
<g id="fc"></g></g>

<g transform="translate(131,2027)">
<use href="#ax10"/>
<text class="tk" text-anchor="end"><tspan x="-6" y="4">1.0</tspan><tspan x="-6" y="27.6">0.9</tspan><tspan x="-6" y="51.2">0.8</tspan><tspan x="-6" y="74.8">0.7</tspan><tspan x="-6" y="98.4">0.6</tspan><tspan x="-6" y="122">0.5</tspan><tspan x="-6" y="145.6">0.4</tspan><tspan x="-6" y="169.2">0.3</tspan><tspan x="-6" y="192.8">0.2</tspan><tspan x="-6" y="216.4">0.1</tspan><tspan x="-6" y="240">0.0</tspan></text>
<text class="tk" text-anchor="middle" y="252"><tspan x="0">0</tspan><tspan x="31.3">200</tspan><tspan x="62.7">400</tspan><tspan x="94">600</tspan><tspan x="125.3">800</tspan><tspan x="156.7">1000</tspan><tspan x="188">1200</tspan><tspan x="219.3">1400</tspan><tspan x="250.7">1600</tspan><tspan x="282">1800</tspan></text>
<text class="tt" x="141" y="269" text-anchor="middle">Time (s)</text>
<text class="tk" transform="translate(-33,118) rotate(-90)" text-anchor="middle" letter-spacing="0.8">Friction Coefficient</text>
<text class="pl" x="17" y="22">(d)</text><text class="ld" x="192" y="73">0.3N</text>
<g id="fd"></g></g>

<g transform="translate(466,2027)">
<use href="#ax10"/>
<text class="tk" text-anchor="end"><tspan x="-6" y="4">1.0</tspan><tspan x="-6" y="27.6">0.9</tspan><tspan x="-6" y="51.2">0.8</tspan><tspan x="-6" y="74.8">0.7</tspan><tspan x="-6" y="98.4">0.6</tspan><tspan x="-6" y="122">0.5</tspan><tspan x="-6" y="145.6">0.4</tspan><tspan x="-6" y="169.2">0.3</tspan><tspan x="-6" y="192.8">0.2</tspan><tspan x="-6" y="216.4">0.1</tspan><tspan x="-6" y="240">0.0</tspan></text>
<text class="tk" text-anchor="middle" y="252"><tspan x="0">0</tspan><tspan x="31.3">200</tspan><tspan x="62.7">400</tspan><tspan x="94">600</tspan><tspan x="125.3">800</tspan><tspan x="156.7">1000</tspan><tspan x="188">1200</tspan><tspan x="219.3">1400</tspan><tspan x="250.7">1600</tspan><tspan x="282">1800</tspan></text>
<text class="tt" x="141" y="269" text-anchor="middle">Time (s)</text>
<text class="tk" transform="translate(-33,118) rotate(-90)" text-anchor="middle" letter-spacing="0.8">Friction Coefficient</text>
<text class="pl" x="17" y="22">(e)</text><text class="ld" x="192" y="73">0.3N</text>
<g id="fe"></g></g>

<g transform="translate(801,2027)">
<use href="#ax10"/>
<text class="tk" text-anchor="end"><tspan x="-6" y="4">1.0</tspan><tspan x="-6" y="27.6">0.9</tspan><tspan x="-6" y="51.2">0.8</tspan><tspan x="-6" y="74.8">0.7</tspan><tspan x="-6" y="98.4">0.6</tspan><tspan x="-6" y="122">0.5</tspan><tspan x="-6" y="145.6">0.4</tspan><tspan x="-6" y="169.2">0.3</tspan><tspan x="-6" y="192.8">0.2</tspan><tspan x="-6" y="216.4">0.1</tspan><tspan x="-6" y="240">0.0</tspan></text>
<text class="tk" text-anchor="middle" y="252"><tspan x="0">0</tspan><tspan x="31.3">200</tspan><tspan x="62.7">400</tspan><tspan x="94">600</tspan><tspan x="125.3">800</tspan><tspan x="156.7">1000</tspan><tspan x="188">1200</tspan><tspan x="219.3">1400</tspan><tspan x="250.7">1600</tspan><tspan x="282">1800</tspan></text>
<text class="tt" x="141" y="269" text-anchor="middle">Time (s)</text>
<text class="tk" transform="translate(-33,118) rotate(-90)" text-anchor="middle" letter-spacing="0.8">Friction Coefficient</text>
<text class="pl" x="17" y="22">(f)</text><text class="ld" x="192" y="73">0.3N</text>
<g id="ff"></g></g>

<g transform="translate(131,2307)">
<use href="#ax10"/>
<text class="tk" text-anchor="end"><tspan x="-6" y="4">1.0</tspan><tspan x="-6" y="27.6">0.9</tspan><tspan x="-6" y="51.2">0.8</tspan><tspan x="-6" y="74.8">0.7</tspan><tspan x="-6" y="98.4">0.6</tspan><tspan x="-6" y="122">0.5</tspan><tspan x="-6" y="145.6">0.4</tspan><tspan x="-6" y="169.2">0.3</tspan><tspan x="-6" y="192.8">0.2</tspan><tspan x="-6" y="216.4">0.1</tspan><tspan x="-6" y="240">0.0</tspan></text>
<text class="tk" text-anchor="middle" y="252"><tspan x="0">0</tspan><tspan x="31.3">200</tspan><tspan x="62.7">400</tspan><tspan x="94">600</tspan><tspan x="125.3">800</tspan><tspan x="156.7">1000</tspan><tspan x="188">1200</tspan><tspan x="219.3">1400</tspan><tspan x="250.7">1600</tspan><tspan x="282">1800</tspan></text>
<text class="tt" x="141" y="269" text-anchor="middle">Time (s)</text>
<text class="tk" transform="translate(-33,118) rotate(-90)" text-anchor="middle" letter-spacing="0.8">Friction Coefficient</text>
<text class="pl" x="17" y="22">(g)</text><text class="ld" x="192" y="60">0.4N</text>
<g id="fg"></g></g>

<g transform="translate(466,2307)">
<use href="#axh"/>
<text class="tk" text-anchor="end"><tspan x="-6" y="4">1.2</tspan><tspan x="-6" y="23.7">1.1</tspan><tspan x="-6" y="43.3">1.0</tspan><tspan x="-6" y="63">0.9</tspan><tspan x="-6" y="82.7">0.8</tspan><tspan x="-6" y="102.3">0.7</tspan><tspan x="-6" y="122">0.6</tspan><tspan x="-6" y="141.7">0.5</tspan><tspan x="-6" y="161.3">0.4</tspan><tspan x="-6" y="181">0.3</tspan><tspan x="-6" y="200.7">0.2</tspan><tspan x="-6" y="220.3">0.1</tspan><tspan x="-6" y="240">0.0</tspan></text>
<text class="tk" text-anchor="middle" y="252"><tspan x="0">0</tspan><tspan x="56.4">100</tspan><tspan x="112.8">200</tspan><tspan x="169.2">300</tspan><tspan x="225.6">400</tspan><tspan x="282">500</tspan></text>
<text class="tt" x="141" y="269" text-anchor="middle">Time (s)</text>
<text class="tk" transform="translate(-33,118) rotate(-90)" text-anchor="middle" letter-spacing="0.8">Friction Coefficient</text>
<text class="pl" x="17" y="22">(h)</text><text class="ld" x="192" y="60">0.4N</text>
<g id="fh"></g></g>

<g transform="translate(801,2307)">
<use href="#axi"/>
<text class="tk" text-anchor="end"><tspan x="-6" y="4">3.0</tspan><tspan x="-6" y="43.3">2.5</tspan><tspan x="-6" y="82.7">2.0</tspan><tspan x="-6" y="122">1.5</tspan><tspan x="-6" y="161.3">1.0</tspan><tspan x="-6" y="200.7">0.5</tspan><tspan x="-6" y="240">0.0</tspan></text>
<text class="tk" text-anchor="middle" y="252"><tspan x="0">0</tspan><tspan x="56.4">50</tspan><tspan x="112.8">100</tspan><tspan x="169.2">150</tspan><tspan x="225.6">200</tspan><tspan x="282">250</tspan></text>
<text class="tt" x="141" y="269" text-anchor="middle">Time (s)</text>
<text class="tk" transform="translate(-33,118) rotate(-90)" text-anchor="middle" letter-spacing="0.8">Friction Coefficient</text>
<text class="pl" x="17" y="22">(i)</text><text class="ld" x="192" y="60">0.4N</text>
<g id="fi"></g></g>

<!-- ===== SLIDING SCHEMATIC (a) ===== -->
<text class="r" font-size="54" x="1160" y="1788">(a)</text>
<text class="s" font-size="30" x="1448" y="1778">Sliding direction</text>
<polygon points="1488,1829.5 1510,1810 1510,1818 1653,1818 1653,1841 1510,1841 1510,1849" fill="#ffc000" stroke="#7a5c10" stroke-width="2"/>
<rect x="1237" y="1928" width="692" height="129" fill="#bd8752"/>
<rect x="1237" y="1928" width="692" height="129" fill="#000" filter="url(#grain)"/>
<rect x="1237" y="2055" width="692" height="5" fill="#1ea0dc"/>
<rect x="1237" y="2061" width="692" height="29" fill="#c3d69b"/>
<path d="M1237,1922.5H1399M1405,1922.5H1474M1484,1922.5H1643M1654,1921L1728,1917M1734,1922.5H1929" stroke="#4a7ebb" stroke-width="7" fill="none"/>
<path d="M1256,1742 L1262,1745 L1266,1762 L1276,1760 L1274,1776 L1286,1782 L1290,1796 L1300,1800 L1306,1814 L1318,1818 L1322,1830 L1336,1834 L1340,1848 L1354,1850 L1360,1864 L1372,1866 L1380,1880 L1395,1882 L1400,1893 L1415,1893 L1422,1899 L1440,1896 L1452,1904 L1470,1900 L1480,1907 L1500,1904 L1512,1910 L1530,1905 L1545,1910 L1565,1904 L1580,1910 L1598,1914 L1612,1915 L1625,1908 L1640,1896 L1650,1905 L1660,1912 L1672,1898 L1690,1890 L1710,1888 L1722,1892 L1740,1878 L1755,1876 L1770,1866 L1785,1860 L1800,1848 L1812,1846 L1822,1832 L1836,1826 L1842,1810 L1855,1804 L1860,1786 L1870,1778 L1874,1760 L1884,1754 L1888,1746 L1890,1742" fill="none" stroke="#4a7ebb" stroke-width="3.5" stroke-linejoin="round"/>
<text class="s" font-size="24" x="1723" y="1910">Contacting asperity</text>
<path d="M1709,1902 L1651,1914" stroke="#000" stroke-width="1.8" marker-end="url(#ah)"/>
<g class="s" font-size="21">
<text x="1130" y="1929">CFx(OH)y</text>
<text x="1163" y="1974">PDA</text>
<text x="1160" y="2055">APTES</text>
<text x="1161" y="2085">SiO<tspan font-size="14" dy="5">2</tspan></text>
</g>

<!-- ===== SLIDING SCHEMATIC (b) ===== -->
<text class="r" font-size="54" x="1160" y="2282">(b)</text>
<text class="s" font-size="30" x="1478" y="2272">Sliding direction</text>
<polygon points="1520,2322 1542,2304 1542,2312 1684,2312 1684,2332 1542,2332 1542,2342" fill="#ffc000" stroke="#7a5c10" stroke-width="2"/>
<path d="M1240,2393 L1385,2391 Q1460,2410 1539,2421 L1676,2421 Q1730,2405 1775,2393 L1933,2393 L1933,2521 L1240,2521 Z" fill="#bd8752"/>
<path d="M1240,2393 L1385,2391 Q1460,2410 1539,2421 L1676,2421 Q1730,2405 1775,2393 L1933,2393 L1933,2521 L1240,2521 Z" fill="#000" filter="url(#grain)"/>
<rect x="1240" y="2520" width="693" height="5" fill="#1ea0dc"/>
<rect x="1240" y="2527" width="693" height="29" fill="#c3d69b"/>
<path d="M1243,2383L1383,2389 M1395,2373L1462,2390 M1430,2383L1505,2402 M1396,2393L1470,2409 M1472,2407L1515,2421 M1520,2395L1566,2405 M1540,2423L1640,2422 M1582,2410L1615,2410 M1640,2415L1690,2412 M1650,2423L1676,2423 M1700,2412L1760,2400 M1778,2385L1826,2385 M1850,2385L1922,2385" stroke="#4a7ebb" stroke-width="7" fill="none"/>
<path d="M1286,2233 L1292,2238 L1296,2256 L1306,2254 L1304,2270 L1318,2276 L1322,2292 L1334,2294 L1338,2310 L1352,2312 L1358,2326 L1370,2330 L1376,2346 L1390,2350 L1398,2364 L1412,2366 L1420,2378 L1436,2380 L1450,2392 L1470,2392 L1485,2398 L1505,2396 L1520,2403 L1545,2400 L1565,2406 L1590,2404 L1615,2408 L1640,2407 L1660,2400 L1680,2392 L1700,2386 L1715,2390 L1730,2380 L1745,2376 L1760,2366 L1775,2362 L1790,2350 L1805,2346 L1815,2334 L1830,2328 L1840,2314 L1855,2308 L1862,2292 L1876,2286 L1882,2270 L1894,2264 L1898,2248 L1912,2244 L1920,2236 L1923,2233" fill="none" stroke="#4a7ebb" stroke-width="3.5" stroke-linejoin="round"/>
<g stroke="#111" stroke-width="3" marker-end="url(#ahb)">
<path d="M1399,2419 L1382,2446"/><path d="M1465,2424 L1462,2468"/><path d="M1511,2424 L1514,2474"/><path d="M1564,2430 L1565,2477"/>
<path d="M1607,2430 L1607,2474"/><path d="M1654,2430 L1654,2477"/><path d="M1687,2421 L1710,2468"/><path d="M1753,2410 L1782,2443"/>
</g>
<g fill="none" stroke="#ffe600" stroke-width="2.5" marker-end="url(#ahy)">
<path d="M1851,2494 l-6,-8 l6,-8 l-6,-8 l6,-8 l-6,-8 l6,-8 l-6,-8 l3,-10"/>
<path d="M1887,2494 l-6,-8 l6,-8 l-6,-8 l6,-8 l-6,-8 l6,-8 l-6,-8 l3,-10"/>
</g>
<text class="s" font-size="22" x="1766" y="2416">Elastic recovery</text>
<text class="s" font-size="27" x="1404" y="2505">Stress absorbing and dispersion</text>
<g class="s" font-size="21">
<text x="1130" y="2389">CFx(OH)y</text>
<text x="1163" y="2441">PDA</text>
<text x="1160" y="2521">APTES</text>
<text x="1161" y="2551">SiO<tspan font-size="14" dy="5">2</tspan></text>
</g>

<!-- ===== FOOTER PHOTO ===== -->
<defs><linearGradient id="fadeL" x1="0" x2="1" y1="0" y2="0"><stop offset="0" stop-color="#fff" stop-opacity="1"/><stop offset="1" stop-color="#fff" stop-opacity="0"/></linearGradient></defs>
<polygon points="0,2727 256,2737 256,2907 0,2907" fill="#e9e9e9"/>
<rect x="147" y="2768" width="584" height="122" fill="#ededed"/>
<rect x="147" y="2766" width="584" height="9" fill="#d3d3d3"/>
<g fill="#c2c2c2">
<rect x="20" y="2745" width="18" height="10"/><rect x="60" y="2745" width="18" height="10"/><rect x="100" y="2748" width="18" height="10"/><rect x="140" y="2750" width="18" height="10"/>
<rect x="20" y="2770" width="18" height="10"/><rect x="60" y="2770" width="18" height="10"/><rect x="100" y="2772" width="18" height="10"/>
<rect x="20" y="2795" width="18" height="10"/><rect x="60" y="2795" width="18" height="10"/><rect x="100" y="2795" width="18" height="10"/>
<rect x="20" y="2820" width="18" height="10"/><rect x="60" y="2820" width="18" height="10"/><rect x="100" y="2820" width="18" height="10"/>
<rect x="20" y="2845" width="18" height="10"/><rect x="60" y="2845" width="18" height="10"/><rect x="100" y="2845" width="18" height="10"/>
</g>
<g fill="#b5b5b5">
<rect x="170" y="2788" width="75" height="9"/><rect x="270" y="2788" width="75" height="9"/><rect x="370" y="2788" width="75" height="9"/><rect x="470" y="2788" width="75" height="9"/><rect x="570" y="2788" width="75" height="9"/><rect x="660" y="2788" width="60" height="9"/>
<rect x="170" y="2809" width="75" height="9"/><rect x="270" y="2809" width="75" height="9"/><rect x="370" y="2809" width="75" height="9"/><rect x="470" y="2809" width="60" height="9"/>
<rect x="170" y="2829" width="75" height="9"/><rect x="270" y="2829" width="75" height="9"/><rect x="370" y="2829" width="75" height="9"/><rect x="470" y="2829" width="60" height="9"/>
<rect x="170" y="2849" width="75" height="9"/><rect x="270" y="2849" width="75" height="9"/><rect x="370" y="2849" width="75" height="9"/><rect x="470" y="2849" width="60" height="9"/>
<rect x="170" y="2868" width="60" height="14"/><rect x="270" y="2868" width="60" height="14"/><rect x="380" y="2866" width="90" height="18"/>
</g>
<rect x="731" y="2753" width="448" height="64" fill="#e7e7e7"/>
<rect x="872" y="2767" width="179" height="46" fill="#9d9d9d"/>
<polygon points="1603,2777 1900,2727 2010,2727 2010,2907 1603,2907" fill="#ebebeb"/>
<rect x="1173" y="2775" width="430" height="115" fill="#ededed"/>
<rect x="1173" y="2772" width="430" height="9" fill="#d5d5d5"/>
<g fill="#b8b8b8">
<rect x="1395" y="2790" width="50" height="9"/><rect x="1465" y="2790" width="50" height="9"/><rect x="1535" y="2790" width="50" height="9"/>
<rect x="1395" y="2810" width="50" height="9"/><rect x="1465" y="2810" width="50" height="9"/><rect x="1535" y="2810" width="50" height="9"/>
<rect x="1395" y="2830" width="50" height="9"/><rect x="1465" y="2830" width="50" height="9"/><rect x="1535" y="2830" width="50" height="9"/>
<rect x="1395" y="2850" width="50" height="9"/><rect x="1465" y="2850" width="50" height="9"/><rect x="1535" y="2850" width="50" height="9"/>
<rect x="1620" y="2772" width="30" height="11"/><rect x="1680" y="2766" width="30" height="11"/><rect x="1740" y="2758" width="30" height="11"/><rect x="1800" y="2750" width="30" height="11"/><rect x="1860" y="2743" width="30" height="11"/>
<rect x="1620" y="2795" width="30" height="11"/><rect x="1680" y="2793" width="30" height="11"/><rect x="1740" y="2790" width="30" height="11"/><rect x="1800" y="2788" width="30" height="11"/><rect x="1860" y="2785" width="30" height="11"/>
<rect x="1620" y="2818" width="30" height="11"/><rect x="1680" y="2816" width="30" height="11"/><rect x="1740" y="2814" width="30" height="11"/><rect x="1800" y="2812" width="30" height="11"/><rect x="1860" y="2810" width="30" height="11"/>
<rect x="1620" y="2840" width="30" height="11"/><rect x="1680" y="2838" width="30" height="11"/><rect x="1740" y="2836" width="30" height="11"/><rect x="1800" y="2834" width="30" height="11"/><rect x="1860" y="2832" width="30" height="11"/>
<rect x="1620" y="2862" width="30" height="11"/><rect x="1680" y="2860" width="30" height="11"/><rect x="1740" y="2858" width="30" height="11"/><rect x="1800" y="2856" width="30" height="11"/><rect x="1860" y="2854" width="30" height="11"/>
</g>
<rect x="538" y="2815" width="834" height="75" fill="#e3e3e3"/>
<rect x="673" y="2815" width="596" height="75" fill="#a8a8a8"/>
<rect x="1018" y="2815" width="10" height="55" fill="#e0e0e0"/>
<rect x="975" y="2870" width="110" height="18" fill="#d8d8d8"/>
<rect x="0" y="2887" width="2010" height="26" fill="#dadada"/>
<ellipse cx="700" cy="2892" rx="40" ry="6" fill="#bfbfbf"/><ellipse cx="1385" cy="2886" rx="45" ry="6" fill="#bfbfbf"/>
<rect x="1580" y="2877" width="60" height="14" rx="5" fill="#f4f4f4"/><rect x="1660" y="2880" width="70" height="14" rx="5" fill="#f4f4f4"/><rect x="1850" y="2888" width="60" height="14" rx="5" fill="#f4f4f4"/>
<rect x="0" y="2720" width="120" height="195" fill="url(#fadeL)"/>

<!-- ===== FOOTER BAR ===== -->
<rect x="0" y="2924" width="2010" height="79" fill="#4f81bd"/>
<rect x="0" y="3000" width="2010" height="5" fill="#6690c8"/>
<g fill="#fff">
<polygon points="0,2932 6,2932 32,2998 26,2998"/><polygon points="28,2932 34,2932 60,2998 54,2998"/><polygon points="58,2932 64,2932 90,2998 84,2998"/>
<polygon points="87,2932 93,2932 119,2998 113,2998"/><polygon points="115,2932 121,2932 147,2998 141,2998"/><polygon points="144,2932 150,2932 176,2998 170,2998"/>
<polygon points="173,2932 179,2932 205,2998 199,2998"/><polygon points="203,2932 209,2932 235,2998 229,2998"/><polygon points="231,2932 237,2932 263,2998 257,2998"/>
<polygon points="430,2932 436,2932 474,2998 468,2998"/><polygon points="455,2932 461,2932 500,2998 494,2998"/>
<polygon points="1603,2932 1609,2932 1560,2998 1554,2998"/><polygon points="1628,2932 1634,2932 1589,2998 1583,2998"/>
<polygon points="1769,2932 1775,2932 1747,2998 1741,2998"/><polygon points="1801,2932 1807,2932 1779,2998 1773,2998"/><polygon points="1833,2932 1839,2932 1811,2998 1805,2998"/>
<polygon points="1865,2932 1871,2932 1843,2998 1837,2998"/><polygon points="1897,2932 1903,2932 1875,2998 1869,2998"/><polygon points="1929,2932 1935,2932 1907,2998 1901,2998"/>
<polygon points="1962,2932 1968,2932 1940,2998 1934,2998"/><polygon points="1994,2932 2000,2932 1972,2998 1966,2998"/>
</g>
<text x="962" y="2990" font-size="64" fill="#fff" class="s" textLength="92" lengthAdjust="spacingAndGlyphs">LSL</text>
</svg>
<script>
(function(){
 function R(s){return function(){s=(Math.imul(s,1664525)+1013904223)>>>0;return s/4294967296;};}
 function S(x,c,w,h){var d=Math.abs(x-c);return d<w?h*(1-d/w):0;}
 var P=[
 {id:'fa',xm:1800,ym:1,c:'#222',f:function(x,r){return (x<12?0.16:0.18)+(r()-.5)*0.035+S(x,490,14,0.11)+S(x,60,10,0.04);}},
 {id:'fb',xm:1800,ym:1,c:'#777',f:function(x,r){return 0.272+(r()-.5)*0.045+S(x,1222,12,0.1)+S(x,40,8,0.05);}},
 {id:'fc',xm:1800,ym:1,c:'#222',f:function(x,r){return x<25?0.37+x*0.0035:0.455+(r()-.5)*0.018+S(x,200,120,0.018)-S(x,840,80,0.015)+S(x,970,60,0.012)+(x>1700?0.012:0);}},
 {id:'fd',xm:1800,ym:1,c:'#222',f:function(x,r){return x<1640?(0.113-0.022*Math.min(x,500)/500+(x>750&&x<820?0.012:0)+(r()-.5)*0.03):(x<1760?0.2+(r()-.5)*0.04:0.16+(r()-.5)*0.04);}},
 {id:'fe',xm:1800,ym:1,c:'#666',f:function(x,r){return 0.245+(r()-.5)*0.055+S(x,270,6,0.3)+S(x,330,6,0.27)+S(x,390,6,0.18)+S(x,415,8,0.28)+S(x,1070,30,0.04);}},
 {id:'ff',xm:1800,ym:1,c:'#777',f:function(x,r){return 0.342+(r()-.5)*0.035+S(x,170,6,0.1)+S(x,930,5,0.07)-S(x,950,5,0.05);}},
 {id:'fg',xm:1800,ym:1,c:'#666',f:function(x,r){return x<655?0.232+(r()-.5)*0.025+S(x,420,5,0.11)+S(x,550,20,0.04):(x<1000?0.42+(r()-.5)*0.09+S(x,720,25,0.1)+S(x,950,60,0.1):0.385+(r()-.5)*0.08);}},
 {id:'fh',xm:500,ym:1.2,c:'#333',f:function(x,r){return x<355?0.2+(r()-.5)*0.14:(x<400?0.2+(x-355)/45*0.4+(r()-.5)*0.1:(x<450?0.6+(x-400)/50*0.15+(r()-.5)*0.18:(x<490?0.8+(r()-.5)*0.2:0.55)));}},
 {id:'fi',xm:250,ym:3,c:'#333',f:function(x,r){return x<96?0.25+(r()-.5)*0.25:(x<234?0.43+(r()-.5)*0.25:(x<236.5?2.5:(x<240?1.6+(r()-.5)*0.5:(x<243?0.5:0.35+(r()-.5)*0.06))));}}
 ];
 P.forEach(function(p,k){var g=document.getElementById(p.id);if(!g)return;var r=R(17+k*31);var N=450;var pts=[];
  for(var i=0;i<=N;i++){var x=p.xm*i/N;var y=p.f(x,r);if(y<0)y=0;if(y>p.ym)y=p.ym;pts.push((282*i/N).toFixed(1)+','+(236-236*y/p.ym).toFixed(1));}
  var pl=document.createElementNS('http://www.w3.org/2000/svg','polyline');pl.setAttribute('points',pts.join(' '));pl.setAttribute('fill','none');pl.setAttribute('stroke',p.c);pl.setAttribute('stroke-width','1.1');g.appendChild(pl);});
})();
</script>
</body></html>
